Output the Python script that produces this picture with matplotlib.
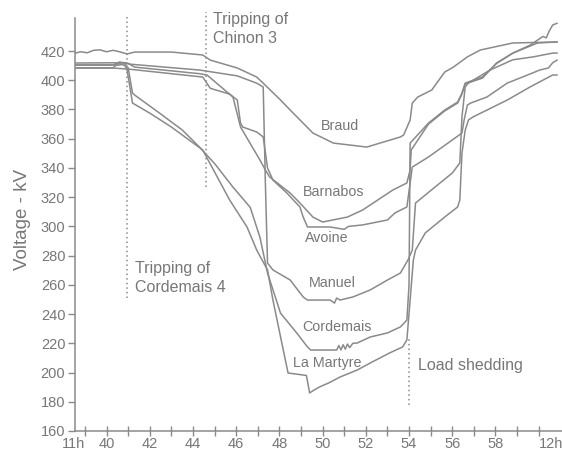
import matplotlib
matplotlib.use("Agg")
import matplotlib.pyplot as plt

plt.rcParams['font.family'] = ['Liberation Sans Narrow', 'Liberation Sans', 'DejaVu Sans']

# minutes after 11h, voltage in kV
braud_t = [38.54, 38.8, 39.1, 39.4, 39.7, 40.0, 40.3, 40.6, 40.95, 41.3, 43.0, 44.45, 44.8, 46.05, 46.95,
           47.25, 48.05, 48.5, 49.55, 50.5, 52.05, 52.65, 53.6, 53.75, 54.05, 54.15, 54.4, 55.05, 55.65,
           56.05, 56.7, 57.3, 58.8, 60.85]
braud_kv = [418.5, 419.5, 418.8, 420.5, 420.8, 419.5, 420.5, 419.5, 418.0, 419.3, 419.3, 417.3, 413.8,
            408.4, 402.2, 398.0, 386.5, 379.6, 363.9, 357.0, 354.3, 357.0, 361.2, 362.5, 372.8, 384.4,
            388.5, 393.3, 405.6, 409.0, 416.0, 420.7, 425.5, 426.2]

barnabos_t = [38.54, 40.3, 40.6, 41.0, 41.3, 44.3, 44.65, 45.85, 46.2, 47.1, 47.35, 47.55, 48.5, 48.95,
              49.55, 50.0, 51.15, 51.85, 53.25, 53.9, 54.05, 54.1, 54.9, 55.65, 56.25, 56.45, 56.6, 57.4,
              58.05, 58.8, 59.6, 60.2, 60.35, 60.5, 60.65, 60.85]
barnabos_kv = [410.5, 410.5, 412.5, 411.5, 409.0, 404.5, 403.6, 388.5, 368.0, 345.4, 338.6, 333.8,
               322.8, 316.0, 306.4, 303.0, 306.4, 311.2, 324.9, 329.7, 338.6, 352.3, 370.0, 379.0,
               384.4, 390.6, 397.5, 401.5, 411.8, 418.6, 424.0, 430.0, 429.0, 434.0, 437.8, 439.0]

avoine_t = [38.54, 40.3, 41.1, 44.45, 44.8, 45.7, 46.05, 46.2, 46.3, 46.95, 47.25, 47.45, 47.7, 48.35,
            48.65, 48.95, 49.1, 49.3, 50.35, 51.0, 51.2, 51.85, 53.0, 53.35, 53.9, 54.15, 54.9, 55.8,
            56.45, 56.55, 56.7, 56.85, 57.6, 58.55, 59.25, 60.05, 60.45, 60.65, 60.85]
avoine_kv = [408.4, 408.4, 407.5, 402.2, 394.5, 390.5, 386.5, 370.7, 368.0, 364.6, 361.2, 340.0, 331.7,
             322.8, 318.0, 313.3, 306.4, 299.6, 299.6, 298.0, 300.0, 301.0, 304.4, 309.2, 313.3, 340.6,
             347.5, 357.0, 363.9, 372.8, 383.0, 384.4, 388.5, 398.1, 402.2, 407.0, 408.4, 412.0, 413.8]

manuel_t = [38.54, 40.85, 41.1, 44.3, 46.05, 46.95, 47.25, 47.35, 47.45, 47.7, 48.5, 49.1, 49.3, 50.35,
            50.55, 50.65, 50.8, 51.4, 52.2, 53.0, 53.6, 53.95, 54.15, 54.3, 55.2, 56.0, 56.35, 56.45,
            56.6, 56.75, 57.75, 58.8, 59.75, 60.65, 60.85]
manuel_kv = [411.8, 412.0, 411.0, 407.0, 403.0, 398.0, 395.4, 330.0, 274.9, 270.2, 263.3, 251.7, 249.6,
             249.6, 247.5, 251.0, 249.6, 251.7, 256.5, 263.3, 268.1, 277.0, 283.8, 316.0, 326.9, 336.5,
             343.4, 375.0, 395.4, 398.1, 407.0, 414.0, 416.0, 418.6, 418.6]

cordemais_t = [38.54, 40.6, 40.85, 41.0, 41.2, 41.3, 42.5, 43.5, 44.3, 45.0, 45.85, 46.65, 47.1, 47.45,
               48.05, 48.8, 49.3, 49.45, 50.65, 50.75, 50.85, 50.95, 51.05, 51.15, 51.25, 51.4, 51.6,
               52.2, 53.0, 53.6, 53.9, 54.0, 54.05, 54.9, 55.65, 56.25, 56.45, 56.6, 57.4, 58.05,
               58.8, 59.95, 60.85]
cordemais_kv = [410.4, 410.4, 411.5, 408.5, 391.3, 389.9, 377.0, 366.0, 354.3, 343.0, 326.9, 313.0,
                292.5, 268.1, 240.7, 227.1, 217.5, 215.4, 215.4, 218.5, 215.5, 219.0, 216.0, 219.5,
                217.0, 220.0, 220.2, 224.3, 227.1, 231.2, 235.9, 260.0, 357.0, 370.7, 379.6, 385.1,
                391.3, 398.1, 402.2, 411.5, 418.5, 425.5, 426.2]

martyre_t = [38.54, 40.3, 40.45, 40.6, 40.85, 40.95, 41.2, 42.0, 43.0, 44.45, 45.7, 46.5, 46.95, 47.45,
             47.7, 48.15, 48.4, 49.25, 49.4, 49.6, 49.85, 50.3, 50.8, 51.6, 52.2, 53.1, 53.7, 53.9,
             54.05, 54.2, 54.3, 54.75, 55.65, 56.25, 56.35, 56.45, 56.6, 56.75, 56.95, 58.55, 59.6,
             60.65, 60.85]
martyre_kv = [408.4, 408.4, 410.5, 411.5, 410.0, 407.0, 384.4, 377.5, 368.0, 352.3, 318.0, 299.6, 283.8,
              270.2, 249.6, 217.5, 199.7, 198.0, 186.0, 188.0, 190.1, 193.0, 196.9, 201.7, 206.5,
              213.4, 217.5, 222.3, 249.6, 277.0, 283.8, 295.5, 306.4, 313.3, 318.0, 350.2, 365.9,
              372.8, 374.8, 386.5, 395.4, 403.6, 403.6]

series = [(braud_t, braud_kv), (barnabos_t, barnabos_kv), (avoine_t, avoine_kv),
          (manuel_t, manuel_kv), (cordemais_t, cordemais_kv), (martyre_t, martyre_kv)]

# curve labels: text, minute, kV
curve_labels = [("Braud", 50.8, 368.7), ("Barnabos", 50.5, 323.5), ("Avoine", 50.2, 292.0),
                ("Manuel", 50.45, 261.3), ("Cordemais", 50.65, 231.2), ("La Martyre", 50.2, 206.5)]

# events: minute, kV bottom, kV top
events_t = [40.95, 44.6, 54.0]
events_lo = [251.0, 327.0, 178.0]
events_hi = [443.0, 447.0, 223.6]

yticks = list(range(160, 421, 20))
xticks = list(range(39, 61))
xticklabels = ["11h" if m == 39 else "12h" if m == 60 else (str(m) if m % 2 == 0 else "")
               for m in xticks]

line_c = "#8a8a8a"
text_c = "#777777"

fig = plt.figure(figsize=(5.62, 4.57), dpi=100)
ax = fig.add_axes([0.1335, 0.0569, 0.8665, 0.9037])
ax.set_xlim(38.54, 61.08)
ax.set_ylim(160, 442.6)

for t, kv in series:
    ax.plot(t, kv, color=line_c, lw=1.1, solid_joinstyle="round")

for name, t, kv in curve_labels:
    ax.text(t, kv, name, color=text_c, fontsize=10.3, ha="center", va="center")

for t, lo, hi in zip(events_t, events_lo, events_hi):
    ax.plot([t, t], [lo, hi], color=line_c, lw=1.1, ls=(0, (1, 2)), clip_on=False)

ax.text(44.93, 435, "Tripping of\nChinon 3", color=text_c, fontsize=11.5, ha="left", va="center",
        linespacing=1.3)
ax.text(41.31, 264.7, "Tripping of\nCordemais 4", color=text_c, fontsize=11.5, ha="left",
        va="center", linespacing=1.35)
ax.text(54.42, 204.5, "Load shedding", color=text_c, fontsize=11.5, ha="left", va="center")

fig.text(0.04, 0.519, "Voltage - kV", color=text_c, fontsize=13.5, rotation=90,
         ha="center", va="center")

for s in ["top", "right"]:
    ax.spines[s].set_visible(False)
for s in ["left", "bottom"]:
    ax.spines[s].set_color(line_c)
    ax.spines[s].set_linewidth(1.1)

ax.set_yticks(yticks)
ax.set_xticks(xticks)
ax.set_xticklabels(xticklabels)
ax.tick_params(axis="y", length=5, width=1, color=line_c, labelcolor=text_c, labelsize=10.5, pad=2)
ax.tick_params(axis="x", direction="inout", length=7, width=1, color=line_c, labelcolor=text_c,
               labelsize=10.5, pad=1)
xl = ax.get_xticklabels()
xl[0].set_ha("right")
xl[-1].set_ha("left")

fig.savefig("out.png", dpi=100, facecolor="white")
